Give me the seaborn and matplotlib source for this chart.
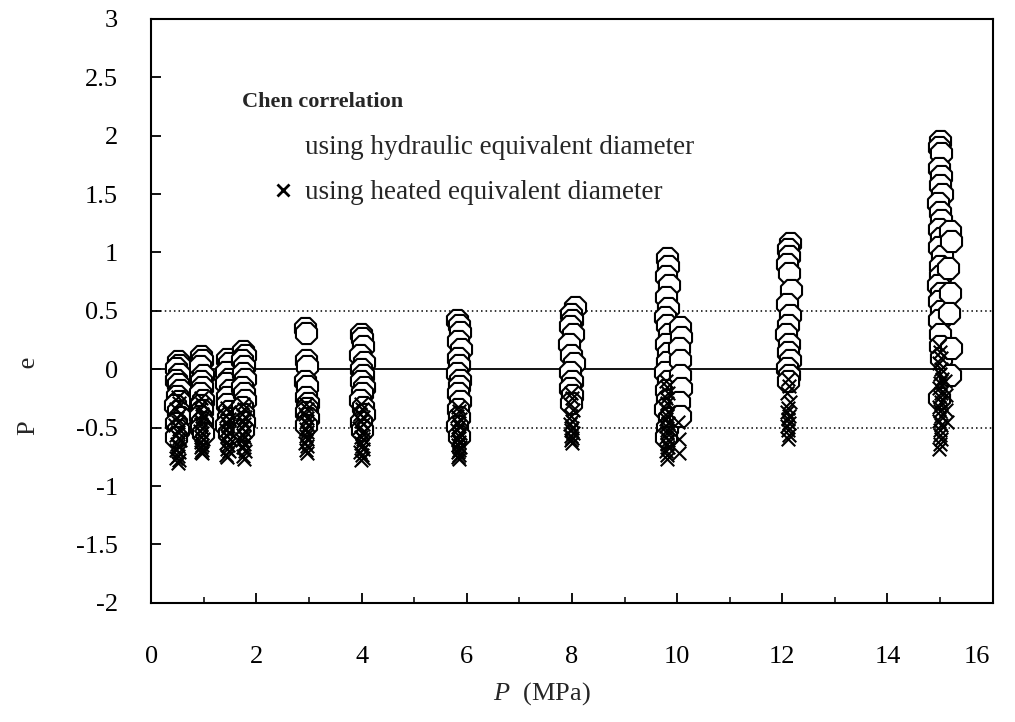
import numpy as np
import pandas as pd
import matplotlib
matplotlib.use("Agg")
import matplotlib.pyplot as plt
import matplotlib.transforms as mtransforms
from matplotlib.lines import Line2D
from matplotlib.ticker import MultipleLocator
import seaborn as sns

# ---- data: hydraulic equivalent diameter (octagons) ----
hyd_P = [0.50, 0.53, 0.48, 0.52, 0.47, 0.51, 0.55, 0.49, 0.52, 0.46, 0.50, 0.54, 0.48, 0.51, 0.47,
         0.95, 0.97, 0.93, 0.98, 0.94, 0.96, 0.92, 0.99, 0.95, 0.97, 0.93, 0.96, 0.94, 0.98,
         1.45, 1.48, 1.43, 1.47, 1.42, 1.50, 1.45, 1.44, 1.48, 1.46, 1.43, 1.47,
         1.75, 1.78, 1.72, 1.77, 1.74, 1.79, 1.73, 1.76, 1.78, 1.72, 1.75, 1.77, 1.74,
         2.92, 2.94, 2.95, 2.96, 2.93, 2.97, 2.95, 2.98, 2.96, 2.94, 2.99, 2.95,
         3.98, 4.00, 4.02, 3.97, 4.04, 3.99, 4.03, 3.98, 4.05, 4.00, 3.97, 4.02, 4.04, 3.99, 4.01,
         5.82, 5.85, 5.87, 5.83, 5.89, 5.84, 5.86, 5.82, 5.88, 5.85, 5.83, 5.87, 5.84, 5.86, 5.82, 5.85,
         8.05, 7.98, 8.00, 7.96, 8.02, 7.95, 7.99, 8.03, 7.97, 8.01, 7.96, 8.00, 7.98,
         9.80, 9.82, 9.78, 9.84, 9.79, 9.83, 9.77, 9.81, 9.85, 9.78, 9.82, 9.80, 9.76, 9.83, 9.79,
         9.81, 9.77, 9.84, 9.80, 9.78, 10.05, 10.07, 10.04, 10.06, 10.05, 10.08, 10.04, 10.06,
         12.15, 12.10, 12.13, 12.08, 12.12, 12.16, 12.09, 12.14, 12.11, 12.07, 12.13, 12.10, 12.15,
         12.08, 12.12, 12.10,
         15.00, 14.98, 15.02, 14.97, 15.01, 14.99, 15.03, 14.96, 15.00, 15.02, 14.98, 15.01, 14.97,
         15.03, 14.99, 15.00, 14.96, 15.02, 14.98, 15.01, 14.97, 15.00, 14.99, 15.02, 14.98,
         15.18, 15.20, 15.16, 15.19, 15.17, 15.21, 15.18]
hyd_e = [0.07, 0.04, 0.01, -0.04, -0.09, -0.13, -0.18, -0.23, -0.27, -0.31, -0.36, -0.41, -0.46, -0.52, -0.58,
         0.11, 0.08, 0.03, -0.05, -0.10, -0.15, -0.20, -0.26, -0.31, -0.35, -0.40, -0.45, -0.50, -0.55,
         0.09, 0.05, -0.02, -0.08, -0.12, -0.18, -0.24, -0.30, -0.36, -0.42, -0.48, -0.55,
         0.16, 0.12, 0.08, 0.03, -0.03, -0.08, -0.15, -0.20, -0.26, -0.32, -0.38, -0.45, -0.52,
         0.35, 0.31, 0.08, 0.03, -0.10, -0.14, -0.24, -0.29, -0.33, -0.37, -0.42, -0.48,
         0.30, 0.27, 0.20, 0.12, 0.06, 0.00, -0.05, -0.10, -0.15, -0.20, -0.26, -0.32, -0.38, -0.45, -0.52,
         0.42, 0.38, 0.32, 0.24, 0.17, 0.10, 0.04, -0.03, -0.09, -0.14, -0.20, -0.27, -0.34, -0.41, -0.49, -0.57,
         0.53, 0.47, 0.42, 0.37, 0.30, 0.22, 0.12, 0.05, -0.02, -0.10, -0.16, -0.22, -0.29,
         0.95, 0.88, 0.80, 0.72, 0.62, 0.52, 0.45, 0.38, 0.30, 0.22, 0.14, 0.06, -0.02, -0.10, -0.18,
         -0.26, -0.34, -0.42, -0.50, -0.58, 0.36, 0.28, 0.18, 0.08, -0.05, -0.16, -0.28, -0.40,
         1.08, 1.03, 0.97, 0.90, 0.82, 0.68, 0.56, 0.46, 0.38, 0.30, 0.22, 0.15, 0.08,
         0.01, -0.05, -0.10,
         1.95, 1.90, 1.85, 1.72, 1.65, 1.58, 1.50, 1.42, 1.35, 1.28, 1.20, 1.12, 1.05,
         0.97, 0.88, 0.80, 0.72, 0.65, 0.58, 0.50, 0.42, 0.30, 0.20, 0.10, -0.25,
         1.18, 1.10, 0.87, 0.65, 0.48, 0.18, -0.05]

# ---- data: heated equivalent diameter (x markers) ----
heat_P = [0.50, 0.52, 0.47, 0.54, 0.49, 0.51, 0.46, 0.53, 0.50, 0.48, 0.52, 0.55, 0.49, 0.51, 0.47,
          0.53, 0.50, 0.48, 0.52, 0.50,
          0.95, 0.97, 0.93, 0.96, 0.98, 0.94, 0.95, 0.97, 0.93, 0.96, 0.94, 0.98, 0.95, 0.96, 0.94,
          0.97, 0.95, 0.96,
          1.45, 1.47, 1.43, 1.48, 1.44, 1.46, 1.42, 1.47, 1.45, 1.49, 1.44, 1.46, 1.45, 1.47, 1.43, 1.45,
          1.75, 1.77, 1.73, 1.78, 1.74, 1.76, 1.72, 1.78, 1.75, 1.77, 1.73, 1.76, 1.74, 1.78, 1.75, 1.76,
          2.94, 2.96, 2.93, 2.97, 2.95, 2.98, 2.94, 2.96, 2.95, 2.97, 2.93, 2.96, 2.95, 2.97,
          3.98, 4.01, 3.97, 4.03, 3.99, 4.02, 3.96, 4.04, 4.00, 3.98, 4.02, 3.99, 4.01, 4.03, 3.97,
          4.00, 4.02, 3.99,
          5.83, 5.85, 5.82, 5.87, 5.84, 5.86, 5.82, 5.88, 5.85, 5.83, 5.86, 5.84, 5.87, 5.85, 5.83,
          5.86, 5.84, 5.85,
          7.98, 8.00, 7.97, 8.02, 7.99, 8.01, 7.97, 8.00, 7.98, 8.02, 7.99, 8.01, 7.98, 8.00,
          9.78, 9.80, 9.82, 9.79, 9.81, 9.77, 9.83, 9.80, 9.78, 9.82, 9.79, 9.81, 9.80, 9.78, 9.83,
          9.80, 9.82, 9.79, 9.81, 9.80, 10.02, 10.04, 10.03,
          12.10, 12.12, 12.08, 12.14, 12.11, 12.09, 12.13, 12.10, 12.12, 12.08, 12.11, 12.13, 12.10,
          14.98, 15.00, 15.02, 14.97, 15.01, 14.99, 15.03, 15.00, 14.98, 15.02, 14.99, 15.01, 14.97,
          15.00, 15.02, 14.98, 15.01, 15.00, 14.99, 15.02, 15.00, 14.98, 15.10, 15.12, 15.11, 15.13]
heat_e = [-0.24, -0.29, -0.34, -0.38, -0.42, -0.45, -0.48, -0.51, -0.54, -0.56, -0.59, -0.61, -0.64, -0.66, -0.69,
          -0.71, -0.74, -0.76, -0.78, -0.80,
          -0.25, -0.30, -0.34, -0.38, -0.41, -0.44, -0.47, -0.50, -0.53, -0.55, -0.58, -0.60, -0.62, -0.65, -0.67,
          -0.69, -0.71, -0.72,
          -0.33, -0.37, -0.40, -0.43, -0.46, -0.49, -0.52, -0.54, -0.57, -0.60, -0.62, -0.65, -0.68, -0.70, -0.73, -0.75,
          -0.30, -0.34, -0.38, -0.41, -0.44, -0.47, -0.50, -0.53, -0.56, -0.58, -0.61, -0.64, -0.67, -0.70, -0.74, -0.77,
          -0.30, -0.34, -0.38, -0.42, -0.45, -0.48, -0.51, -0.54, -0.57, -0.60, -0.63, -0.66, -0.69, -0.72,
          -0.30, -0.34, -0.38, -0.41, -0.44, -0.47, -0.50, -0.53, -0.55, -0.58, -0.60, -0.63, -0.66, -0.68, -0.71,
          -0.73, -0.76, -0.78,
          -0.32, -0.36, -0.40, -0.43, -0.46, -0.49, -0.52, -0.55, -0.57, -0.60, -0.62, -0.65, -0.67, -0.69, -0.71,
          -0.73, -0.75, -0.77,
          -0.20, -0.25, -0.30, -0.35, -0.40, -0.44, -0.47, -0.50, -0.52, -0.55, -0.57, -0.59, -0.61, -0.63,
          -0.10, -0.15, -0.20, -0.25, -0.29, -0.33, -0.37, -0.40, -0.43, -0.46, -0.49, -0.52, -0.55, -0.58, -0.61,
          -0.64, -0.67, -0.70, -0.73, -0.77, -0.45, -0.60, -0.72,
          -0.08, -0.14, -0.20, -0.28, -0.33, -0.37, -0.40, -0.43, -0.46, -0.49, -0.52, -0.56, -0.60,
          0.20, 0.15, 0.10, 0.05, 0.00, -0.04, -0.08, -0.12, -0.16, -0.20, -0.24, -0.28, -0.32,
          -0.36, -0.40, -0.44, -0.48, -0.52, -0.56, -0.60, -0.64, -0.68, -0.10, -0.22, -0.35, -0.45]

x_ticks = [0, 2, 4, 6, 8, 10, 12, 14, 16]
y_ticks = [-2, -1.5, -1, -0.5, 0, 0.5, 1, 1.5, 2, 2.5, 3]
legend_title = "Chen correlation"
label_hyd = "using hydraulic equivalent diameter"
label_heat = "using heated equivalent diameter"

sns.set_theme(style="ticks")
plt.rcParams['font.family'] = ['Liberation Serif', 'DejaVu Serif']
plt.rcParams['mathtext.fontset'] = 'custom'
plt.rcParams['mathtext.it'] = 'Liberation Serif:italic'
plt.rcParams['mathtext.rm'] = 'Liberation Serif'

fig = plt.figure(figsize=(10.15, 7.22), dpi=100)
ax = fig.add_axes([0.149, 0.165, 0.829, 0.809])

df_h = pd.DataFrame({"P": hyd_P, "e": hyd_e})
df_x = pd.DataFrame({"P": heat_P, "e": heat_e})

ax.axhline(0, color="black", lw=1.3, zorder=1)
ax.axhline(0.5, color="black", lw=1.1, ls=(0, (1, 2)), zorder=1)
ax.axhline(-0.5, color="black", lw=1.1, ls=(0, (1, 2)), zorder=1)

sns.scatterplot(data=df_h, x="P", y="e", ax=ax, marker="8", s=270,
                facecolor="white", edgecolor="black", linewidth=1.5, zorder=3, legend=False)
sns.scatterplot(data=df_x, x="P", y="e", ax=ax, marker="x", s=95,
                color="black", linewidth=1.5, zorder=4, legend=False)

ax.set_xlim(0, 16)
ax.set_ylim(-2, 3)
ax.set_xticks(x_ticks)
ax.set_xticklabels([str(t) for t in x_ticks])
ax.xaxis.set_minor_locator(MultipleLocator(1))
ax.set_yticks(y_ticks)
ax.set_yticklabels([("%g" % t) for t in y_ticks])
ax.tick_params(axis="both", which="major", direction="in", length=7, width=1.3,
               labelsize=19, colors="black")
ax.tick_params(axis="x", which="major", pad=31)
ax.tick_params(axis="y", which="major", pad=24)
ax.tick_params(axis="x", which="minor", direction="in", length=4, width=1.3)
for sp in ax.spines.values():
    sp.set_linewidth(1.5)
    sp.set_color("black")

# last x tick label sits slightly left of its tick, as in the reference
last_lbl = ax.get_xticklabels()[-1]
last_lbl.set_transform(last_lbl.get_transform() +
                       mtransforms.ScaledTranslation(-16 / 100, 0, fig.dpi_scale_trans))

ax.set_xlabel(r"$P$  (MPa)", fontsize=19)
ax.xaxis.set_label_coords(0.464, -0.132)
ax.set_ylabel("P        e", fontsize=19)
ax.yaxis.set_label_coords(-0.132, 0.355)

# legend title as bold text, entries as a legend below it
ax.text(0.108, 0.858, legend_title, transform=ax.transAxes, fontsize=16,
        fontweight="bold", ha="left", va="center")
handles = [Line2D([], [], marker="8", ls="none", markersize=14, markerfacecolor="white",
                  markeredgecolor="white"),
           Line2D([], [], marker="x", ls="none", markersize=9, color="black", markeredgewidth=2)]
leg = ax.legend(handles, [label_hyd, label_heat], loc="upper left",
                bbox_to_anchor=(0.110, 0.801), frameon=False, fontsize=19.5,
                borderpad=0, borderaxespad=0,
                handletextpad=-0.65, labelspacing=0.75, handlelength=2.9)

fig.savefig("out.png", dpi=100, facecolor="white")
